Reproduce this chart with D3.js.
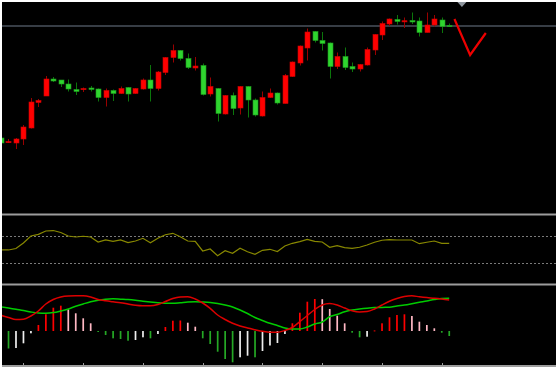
<!DOCTYPE html>
<html>
<head>
<meta charset="utf-8">
<script src="https://cdn.jsdelivr.net/npm/d3@7/dist/d3.min.js"></script>
<style>
  html, body { margin: 0; padding: 0; background: #fff; }
  svg { display: block; }
</style>
</head>
<body>
<div class="canvas"></div>
<script>
'use strict';

// candles, one per bar (red = up, green = down)
var OPEN  = [62,57.5,57,61,72,97.5,104,121,120,116,110.5,110.5,112,111,102.5,109.5,106.5,112.5,106.5,111,120,111.5,127.5,142.5,149.5,141.5,132,134.5,106,111.5,86,104.5,92,113.5,100,84,102.5,107,96.5,123.5,137,152,168.5,159.5,157,133.5,143.5,133.5,131,135,150,165,176,180.5,178.7,179.5,179,167.5,175,180,174.5];
var HIGH  = [63,61,62,75,102,101,124,123,120,120.5,117.5,112.5,114,111.5,111.5,110.5,113.5,113,112,121.5,135,129,143,155.5,150,146.5,143,136.5,122.5,112,105,107.5,114,114,101.5,108.5,111.5,107.5,126,138.5,154.5,171.5,169,168,157.5,147.5,152.5,137.5,136,152.5,166,178.5,181.5,185,182.5,187.5,182.5,187.5,185,182.5,176.5];
var LOW   = [56,57,51,55,71.5,93,104,118,113,108.5,105,108,108.5,98.5,93.5,99,106,98.5,106,110.5,98.5,109.5,125,137.5,139.5,131,129.5,104.5,103.5,78.5,85.5,85,85.5,82.5,83.5,83.5,102,95.5,96.5,123,134.5,139.5,157.5,149.5,121.5,131,130,128,128.5,134.5,145,160,174,175.5,172,176,163.5,167.5,173.5,167,173.5];
var CLOSE = [57,58.5,61,73,98,99.5,121,119,116,111,108.5,111.5,110.5,102.5,109.5,106.5,111.5,106,111.5,120,111.5,128,142.5,149.5,141.5,132.5,134,105.5,113.5,86.5,104.5,91.5,113.5,100,85,102.5,107,97,124.5,138,154,168,159.5,156.5,133.5,143.5,132.5,131,135.5,150.5,165.5,176.5,181,178.5,179.3,178,167.5,175,181,173.5,174];

// drawn forecast zigzag (bar position, price)
var FORECAST_IDX = [60.7, 62.8, 64.9];
var FORECAST_PRICE = [181, 145, 167];
var CURSOR_IDX = 61.7;

// oscillator
var RSI = [49.3,49.3,51.5,59.6,70,72.5,77.4,78.1,75.2,70,68.5,69.6,68.5,61.1,64.1,62.1,64.1,60.1,62.6,66.6,60.1,66.6,71.9,74,69,62.6,62.1,47.8,50.7,40.8,48.2,44.4,51.8,46.7,42.9,48.8,50.3,47,55.2,59.2,61.6,65.1,62.1,61.1,53.3,55.6,52.7,51.8,53.3,56.7,60.7,63.7,64.5,64.1,64.1,64.1,58.6,60.7,62.6,59.2,59.2];
var RSI_LEVELS = [70, 30];

// MACD
var DIF  = [15.7,13.5,11.5,11.8,15,20,27,31.5,34,35,35.2,35.2,34,31.5,30.2,29.2,28.3,27,25.7,25.2,25.2,26.5,29.5,32.5,34,34.2,32,28,22.7,16,11.5,7.7,5,3,1.3,-0.3,-1.3,-1.3,0.5,3.5,9.3,15.5,21.5,26,27.5,26,23,20.2,19,19.4,22,26,29.7,32.5,34.5,35.2,34.2,33.4,32.8,32,31];
var DEA  = [24.2,23,21.7,20.5,19,18,17.8,18.4,20,22,24.7,27,29.2,30.8,31.8,32.2,31.8,31.4,30.7,29.8,29,28.2,27.8,27.7,28.3,29,29.3,29,28.5,27.5,26,24,21,17.5,13.5,10.5,7.7,5.5,3,2,2,4,7,9,14.3,16.5,19.2,21,22,22.8,23.4,23.6,23.7,25,26,27.3,28.7,30,31.5,32.6,32.7];
var HIST = [-16,-17.5,-17,-12.3,-2.3,6,16.7,23.3,25.3,21.7,17.7,12.7,7.7,-0.5,-4,-7.3,-8,-9.7,-9,-6.3,-7.3,-3,4,10.3,10.5,8.3,4.3,-7.3,-13,-20.7,-28,-31.3,-26.3,-24.7,-26.3,-20,-14.5,-12,-3,7.7,18.3,29.3,32,31.8,22,15.3,7.7,-1.7,-6.3,-5.7,0.6,7.7,13.7,16,16.7,15,9.3,6,2.7,-1.7,-5];

var TICK_IDX = [3, 11, 19, 27, 35, 43, 51, 59];

var W = 558, H = 369;

var svg = d3.select('.canvas').append('svg')
  .attr('width', W)
  .attr('height', H);

svg.append('rect').attr('width', W).attr('height', H).attr('fill', '#fff');
svg.append('rect')
  .attr('x', 2).attr('y', 2)
  .attr('width', 554).attr('height', 365)
  .attr('fill', '#000');

svg.append('defs').append('clipPath')
  .attr('id', 'plot')
  .append('rect')
  .attr('x', 2).attr('y', 2)
  .attr('width', 554).attr('height', 363);

var g = svg.append('g').attr('clip-path', 'url(#plot)');

var x = d3.scaleLinear().domain([0, 60]).range([1, 449.2]);
var y = d3.scaleLinear().domain([-13, 200]).range([213, 0]);
var yRsi = d3.scaleLinear().domain([0, 100]).range([283.25, 215.75]);
var yMacd = d3.scaleLinear().domain([-34, 45]).range([365, 286]);

var bars = d3.range(OPEN.length).map(function(i) {
  return { i: i, o: OPEN[i], h: HIGH[i], l: LOW[i], c: CLOSE[i] };
});

// last price line
g.append('line')
  .attr('x1', 2).attr('x2', 556)
  .attr('y1', y(CLOSE[CLOSE.length - 1])).attr('y2', y(CLOSE[CLOSE.length - 1]))
  .style('stroke', '#4a525d')
  .style('stroke-width', 1.5);

// wicks
g.selectAll('line.wick')
  .data(bars)
  .enter()
  .append('line')
  .classed('wick', true)
  .attr('x1', function(d) { return Math.round(x(d.i)) + 0.5; })
  .attr('x2', function(d) { return Math.round(x(d.i)) + 0.5; })
  .attr('y1', function(d) { return y(d.h); })
  .attr('y2', function(d) { return y(d.l); })
  .style('stroke', function(d) { return d.c >= d.o ? '#9a0000' : '#0b760b'; })
  .style('stroke-width', 1);

// bodies
g.selectAll('rect.body')
  .data(bars)
  .enter()
  .append('rect')
  .classed('body', true)
  .attr('x', function(d) { return Math.round(x(d.i)) - 2; })
  .attr('width', 5)
  .attr('y', function(d) { return y(Math.max(d.o, d.c)); })
  .attr('height', function(d) { return Math.max(1.2, Math.abs(y(d.o) - y(d.c))); })
  .style('fill', function(d) { return d.c >= d.o ? '#ff0000' : '#2fd52f'; })
  .style('stroke', function(d) { return d.c >= d.o ? '#cc0000' : '#1c9c1c'; })
  .style('stroke-width', 0.6);

// forecast zigzag
g.append('path')
  .datum(FORECAST_IDX.map(function(v, k) { return [v, FORECAST_PRICE[k]]; }))
  .attr('d', d3.line()
    .x(function(d) { return x(d[0]); })
    .y(function(d) { return y(d[1]); }))
  .style('fill', 'none')
  .style('stroke', '#ee0000')
  .style('stroke-width', 2.2);

// cursor marker
var cx = x(CURSOR_IDX);
svg.append('path')
  .attr('d', 'M' + (cx - 4.5) + ',2L' + (cx + 4.5) + ',2L' + cx + ',7Z')
  .style('fill', '#8e959d');

// panel separators
[214.5, 284.5].forEach(function(py) {
  svg.append('line')
    .attr('x1', 2).attr('x2', 556)
    .attr('y1', py).attr('y2', py)
    .style('stroke', '#9c9c9c')
    .style('stroke-width', 2);
});

// oscillator
g.selectAll('line.level')
  .data(RSI_LEVELS)
  .enter()
  .append('line')
  .classed('level', true)
  .attr('x1', 2).attr('x2', 556)
  .attr('y1', function(d) { return Math.round(yRsi(d)) + 0.5; })
  .attr('y2', function(d) { return Math.round(yRsi(d)) + 0.5; })
  .style('stroke', '#7a7a7a')
  .style('stroke-dasharray', '2,2')
  .style('stroke-width', 1);

g.append('path')
  .datum(RSI)
  .attr('d', d3.line()
    .x(function(d, i) { return x(i); })
    .y(function(d) { return yRsi(d); }))
  .style('fill', 'none')
  .style('stroke', '#888800')
  .style('stroke-width', 1.2);

// MACD histogram
g.selectAll('rect.hist')
  .data(HIST)
  .enter()
  .append('rect')
  .classed('hist', true)
  .attr('x', function(d, i) { return x(i) - 0.8; })
  .attr('width', 1.7)
  .attr('y', function(d) { return Math.min(yMacd(d), yMacd(0)); })
  .attr('height', function(d) { return Math.max(1, Math.abs(yMacd(d) - yMacd(0))); })
  .style('fill', function(d, i) {
    var prev = i > 0 ? HIST[i - 1] : d;
    if (d >= 0) return d >= prev ? '#ff0000' : '#ffb8c4';
    return d <= prev ? '#25a825' : '#eeeeee';
  });

var macdLine = d3.line()
  .x(function(d, i) { return x(i); })
  .y(function(d) { return yMacd(d); })
  .curve(d3.curveMonotoneX);

g.append('path')
  .datum(DEA)
  .attr('d', macdLine)
  .style('fill', 'none')
  .style('stroke', '#00cc00')
  .style('stroke-width', 1.5);

g.append('path')
  .datum(DIF)
  .attr('d', macdLine)
  .style('fill', 'none')
  .style('stroke', '#dd0000')
  .style('stroke-width', 1.5);

// bottom axis
svg.append('line')
  .attr('x1', 2).attr('x2', 556)
  .attr('y1', 366).attr('y2', 366)
  .style('stroke', '#9c9c9c')
  .style('stroke-width', 2);

svg.selectAll('line.tick')
  .data(TICK_IDX)
  .enter()
  .append('line')
  .classed('tick', true)
  .attr('x1', function(d) { return Math.round(x(d)) + 0.5; })
  .attr('x2', function(d) { return Math.round(x(d)) + 0.5; })
  .attr('y1', 363).attr('y2', 367)
  .style('stroke', '#9c9c9c')
  .style('stroke-width', 1);
</script>
</body>
</html>
